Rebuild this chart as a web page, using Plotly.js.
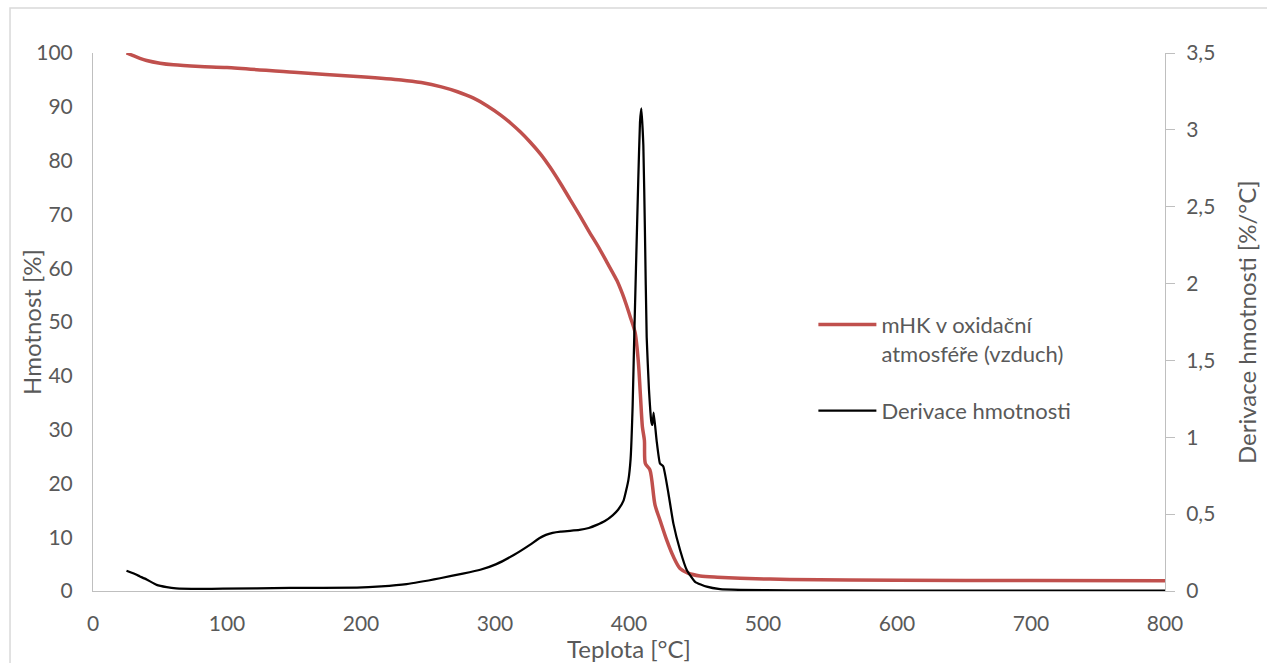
<!DOCTYPE html>
<html>
<head>
<meta charset="utf-8">
<script src="https://cdn.plot.ly/plotly-3.0.1.min.js"></script>
<style>html,body{margin:0;padding:0;background:#fff;}#chart{width:1267px;height:663px;}</style>
</head>
<body>
<div id="chart"></div>
<script>
// TG curve: temperature [°C] and mass [%]
const tgTemp = [25,30,35,40,50,60,80,100,150,200,230,245,260,272,284,294,304,312,319,326,334,341,349,356,363,370,378,384,391,395,398,401,404.5,407,408.5,410,411.5,412.2,415.6,419.4,423.1,428.1,433.1,438.1,444.3,453,466,483,520,600,700,800];
const tgMass = [100,99.5,99.0,98.6,98.1,97.8,97.5,97.3,96.4,95.6,95.0,94.5,93.7,92.8,91.6,90.2,88.5,86.9,85.3,83.5,81.2,78.8,75.7,72.8,69.9,66.9,63.6,60.9,57.7,55.3,53.2,50.9,48.1,42.5,36.5,30.5,28.0,23.7,22.5,16.0,13.2,9.5,6.4,4.2,3.3,2.8,2.55,2.35,2.15,2.0,1.95,1.9];
// DTG curve: temperature [°C] and derivative [%/°C]
const dtgTemp = [25,30,35,40,47.5,55,62,80,97,147,197,215,234,259,276,289,301,314,326,333,338,343,349,356,363,370,376,382,388,392,396,399.5,401.2,402.7,403.9,405.2,406.9,408.2,409.2,410.7,411.9,413.2,414.9,416.7,417.5,418.4,420.6,423.1,425.6,429.4,433.1,438.1,443.1,449.3,458,468,483,520,600,800];
const dtgValue = [0.132,0.115,0.095,0.075,0.04,0.025,0.017,0.014,0.015,0.02,0.022,0.03,0.045,0.083,0.113,0.138,0.175,0.234,0.30,0.343,0.365,0.378,0.386,0.391,0.397,0.41,0.43,0.455,0.494,0.53,0.59,0.72,0.86,1.2,1.65,2.10,2.67,3.05,3.14,2.90,2.33,1.65,1.31,1.10,1.08,1.16,0.98,0.83,0.81,0.636,0.44,0.267,0.137,0.06,0.028,0.012,0.007,0.004,0.003,0.002];

const seriesNames = ['mHK v oxidační<br>atmosféře (vzduch)', 'Derivace hmotnosti'];
const axisTitles = {x: 'Teplota [°C]', y: 'Hmotnost [%]', y2: 'Derivace hmotnosti [%/°C]'};

const FONT = 'Lato, "Noto Sans", sans-serif';
const GREY = '#595959';

const traces = [
  {x: tgTemp, y: tgMass, type: 'scatter', mode: 'lines', name: seriesNames[0], legendgroup: 'a',
   line: {color: '#c0504d', width: 3.5, shape: 'spline', smoothing: 0.8}, yaxis: 'y'},
  {x: dtgTemp, y: dtgValue, type: 'scatter', mode: 'lines', name: seriesNames[1], legendgroup: 'b',
   line: {color: '#000000', width: 2.25, shape: 'spline', smoothing: 0.4}, yaxis: 'y2'}
];

const layout = {
  width: 1267, height: 663,
  margin: {l: 93, r: 102, t: 53, b: 72},
  paper_bgcolor: '#ffffff', plot_bgcolor: '#ffffff',
  separators: ', ',
  font: {family: FONT, color: GREY, size: 21},
  showlegend: true,
  legend: {x: 0.672, y: 0.534, xanchor: 'left', yanchor: 'top', bgcolor: 'rgba(0,0,0,0)',
           font: {family: FONT, size: 22, color: GREY}, valign: 'top', tracegroupgap: 26, itemwidth: 58},
  xaxis: {range: [0, 800], dtick: 100, tick0: 0, showline: true, linecolor: '#bfbfbf', linewidth: 1,
          showgrid: false, zeroline: false, ticks: '', ticklabelstandoff: 14, tickfont: {size: 21, color: GREY},
          title: {text: axisTitles.x, font: {size: 24, color: GREY}, standoff: 2}},
  yaxis: {range: [0, 100], dtick: 10, tick0: 0, showline: true, linecolor: '#bfbfbf', linewidth: 1,
          showgrid: false, zeroline: false, ticks: '', ticklabelstandoff: 15, tickfont: {size: 21, color: GREY}},
  yaxis2: {range: [0, 3.5], dtick: 0.5, tick0: 0, overlaying: 'y', side: 'right', showline: true,
           linecolor: '#bfbfbf', linewidth: 1, showgrid: false, zeroline: false,
           ticks: 'outside', ticklen: 9, tickcolor: '#bfbfbf', ticklabelstandoff: 7, tickfont: {size: 21, color: GREY}},
  annotations: [
    {text: axisTitles.y, xref: 'paper', yref: 'paper', x: (31 - 93) / 1072, y: 0.5, textangle: -90,
     showarrow: false, xanchor: 'center', yanchor: 'middle', font: {size: 24, color: GREY}},
    {text: axisTitles.y2, xref: 'paper', yref: 'paper', x: (1246 - 93) / 1072, y: 0.5, textangle: -90,
     showarrow: false, xanchor: 'center', yanchor: 'middle', font: {size: 24, color: GREY}}
  ],
  shapes: [
    {type: 'rect', xref: 'paper', yref: 'paper', x0: -0.0774, x1: 1.3, y0: -0.3, y1: 1.0836,
     line: {color: '#d9d9d9', width: 1.5}, fillcolor: 'rgba(0,0,0,0)', layer: 'below'}
  ]
};

Plotly.newPlot('chart', traces, layout, {displayModeBar: false, staticPlot: true});
</script>
</body>
</html>
